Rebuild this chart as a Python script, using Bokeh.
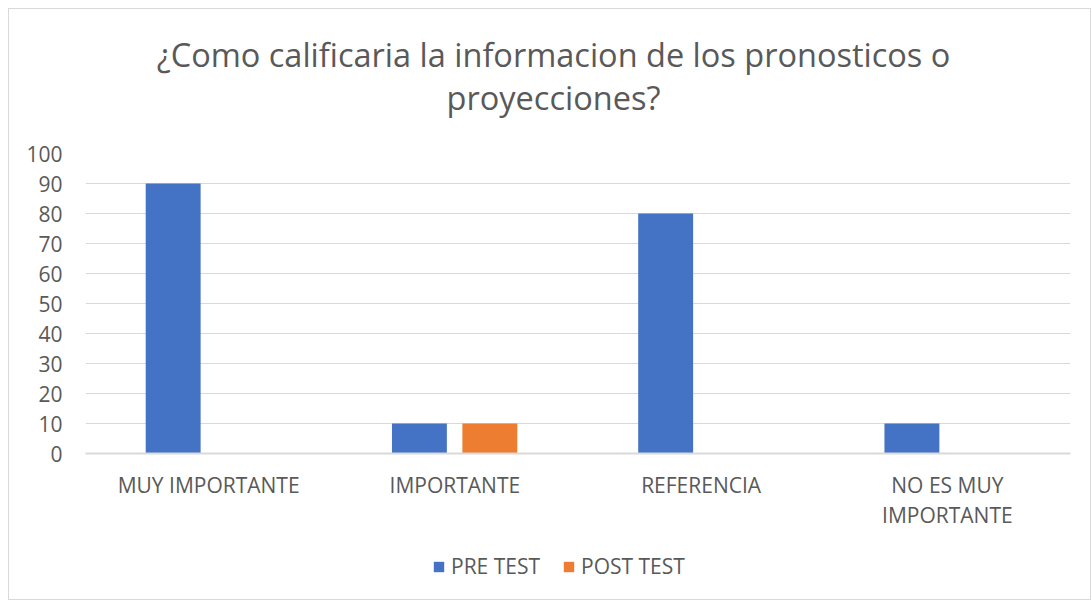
from bokeh.plotting import figure
from bokeh.layouts import column
from bokeh.models import FactorRange, Range1d, Legend, LegendItem, ColumnDataSource, FixedTicker
from bokeh.core.properties import value
from bokeh.transform import dodge
from bokeh.embed import file_html
from bokeh.resources import INLINE

categories = ["MUY IMPORTANTE", "IMPORTANTE", "REFERENCIA", "NO ES MUY\nIMPORTANTE"]
pre_test = [90, 10, 80, 10]
post_test = [0, 10, 0, 0]
series_names = ["PRE TEST", "POST TEST"]
series_colors = ["#4472C4", "#ED7D31"]
y_ticks = [0, 10, 20, 30, 40, 50, 60, 70, 80, 90, 100]
title_lines = ["¿Como calificaria la informacion de los pronosticos o", "proyecciones?"]

FONT = "Open Sans"
TXT = "#595959"
GRID = "#D9D9D9"
W = 1081
BL, BR = 76, 20
FW = W - BL - BR

# ---- title strip ----
TH = 132
pt = figure(width=W, height=TH, x_range=Range1d(0, FW), y_range=Range1d(0, TH),
            x_axis_type=None, y_axis_type=None, output_backend="svg",
            toolbar_location=None, min_border=0, min_border_left=BL, min_border_right=BR)
pt.outline_line_color = None
pt.xgrid.visible = False
pt.ygrid.visible = False
pt.text(x=[468, 468], y=[TH - 45, TH - 88], text=title_lines,
        text_font=value(FONT), text_font_size="32.5px", text_color=TXT,
        text_align="center", text_baseline="middle")

# ---- main chart ----
src = ColumnDataSource(dict(cat=categories, pre=pre_test, post=post_test))

p = figure(
    width=W, height=402,
    x_range=FactorRange(factors=categories, range_padding=0),
    y_range=Range1d(0, 100),
    output_backend="svg", toolbar_location=None, title=None,
    min_border_left=BL, min_border_right=BR, min_border_top=12, min_border_bottom=90,
)
p.outline_line_color = None

r_pre = p.vbar(x=dodge("cat", -0.144, range=p.x_range), top="pre", width=0.223,
               source=src, color=series_colors[0], line_color=None)
r_post = p.vbar(x=dodge("cat", 0.142, range=p.x_range), top="post", width=0.223,
                source=src, color=series_colors[1], line_color=None)

p.yaxis.ticker = FixedTicker(ticks=y_ticks)
p.yaxis.axis_line_color = None
p.yaxis.major_tick_line_color = None
p.yaxis.minor_tick_line_color = None
p.yaxis.major_label_text_font = FONT
p.yaxis.major_label_text_font_size = "21px"
p.yaxis.major_label_text_color = TXT
p.yaxis.major_label_standoff = 17

p.xaxis.axis_line_color = GRID
p.xaxis.axis_line_width = 2
p.xaxis.major_tick_line_color = None
p.xaxis.minor_tick_line_color = None
p.xaxis.major_label_text_font = FONT
p.xaxis.major_label_text_font_size = "21px"
p.xaxis.major_label_text_color = TXT
p.xaxis.major_label_text_line_height = 1.1
p.xaxis.major_label_standoff = 11
p.xaxis.major_label_orientation = "horizontal"

p.xgrid.grid_line_color = None
p.ygrid.grid_line_color = GRID
p.ygrid.grid_line_width = 1

# ---- legend strip ----
LH = 56
pl = figure(width=W, height=LH, x_range=Range1d(0, 1), y_range=Range1d(0, 1),
            x_axis_type=None, y_axis_type=None, output_backend="svg",
            toolbar_location=None, min_border=0, min_border_left=BL, min_border_right=BR)
pl.outline_line_color = None
pl.xgrid.visible = False
pl.ygrid.visible = False
lr_pre = pl.vbar(x=[-10], top=[0], width=0.1, color=series_colors[0], line_color=None)
lr_post = pl.vbar(x=[-10], top=[0], width=0.1, color=series_colors[1], line_color=None)
legend = Legend(
    items=[LegendItem(label=series_names[0], renderers=[lr_pre]),
           LegendItem(label=series_names[1], renderers=[lr_post])],
    orientation="horizontal", location=(347, 19),
    label_text_font=FONT, label_text_font_size="21px", label_text_color=TXT,
    glyph_width=13, glyph_height=13, spacing=22, label_standoff=6,
    border_line_color=None, background_fill_alpha=0, padding=0, margin=0,
)
pl.add_layout(legend, "center")

layout = column(pt, p, pl, spacing=0,
                styles={"border": "1px solid #D9D9D9", "margin-left": "8px", "margin-top": "8px"})

open("out.html", "w").write(file_html(layout, INLINE))
